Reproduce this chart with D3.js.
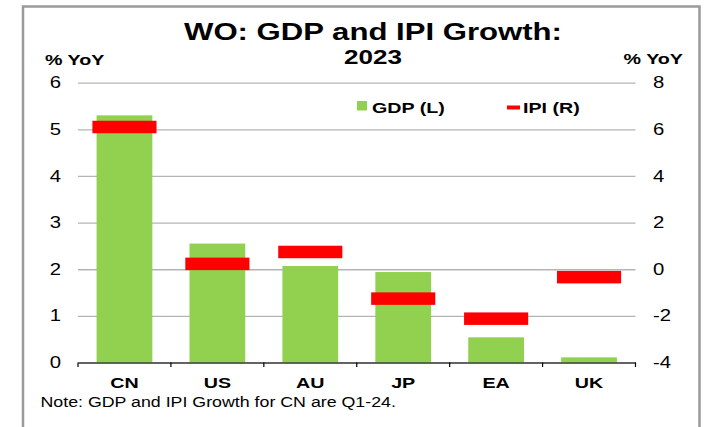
<!DOCTYPE html>
<html>
<head>
<meta charset="utf-8">
<script src="https://cdn.jsdelivr.net/npm/d3@7"></script>
<style>
  body { margin: 0; background: #fff; }
  svg { display: block; font-family: "Liberation Sans", Arial, sans-serif; }
</style>
</head>
<body>
<div id="chart"></div>
<script>
// Chart data
var categories = ["CN", "US", "AU", "JP", "EA", "UK"];
var gdpValues = [5.3, 2.55, 2.07, 1.94, 0.54, 0.11];
var ipiValues = [6.1, 0.23, 0.74, -1.26, -2.12, -0.34];
var leftTicks = [0, 1, 2, 3, 4, 5, 6];
var rightTicks = [-4, -2, 0, 2, 4, 6, 8];

// text in the picture is a bit wider than the font
var SX = 1.27;

var svgWidth = 706, svgHeight = 427;
var margin = { top: 82.7, right: 70.5, bottom: 64.5, left: 78 };
var width = svgWidth - margin.left - margin.right;
var height = svgHeight - margin.top - margin.bottom;

var svg = d3.select("#chart")
    .append("svg")
    .attr("width", svgWidth)
    .attr("height", svgHeight);

// frame
svg.append("rect")
    .attr("x", 23).attr("y", 6.5)
    .attr("width", 676.5).attr("height", 440)
    .attr("fill", "none")
    .attr("stroke", "#9a9a9a")
    .attr("stroke-width", 2.5);

// helper: place a stretched text
function addText(g, x, y, str, size, weight, anchor) {
    return g.append("text")
        .attr("transform", `translate(${x}, ${y}) scale(${SX}, 1)`)
        .attr("text-anchor", anchor || "start")
        .attr("font-size", size)
        .attr("font-weight", weight || "normal")
        .attr("fill", "#000")
        .text(str);
}

// Title
addText(svg, 373, 39.5, "WO: GDP and IPI Growth:", 24.5, "bold", "middle");
addText(svg, 373, 63.5, "2023", 20.5, "bold", "middle");

// axis titles
addText(svg, 45, 65, "% YoY", 15.5, "bold", "start");
addText(svg, 683, 64, "% YoY", 15.5, "bold", "end");

var chartGroup = svg.append("g")
    .attr("transform", `translate(${margin.left}, ${margin.top})`);

// Scales
var xScale = d3.scaleBand()
    .domain(categories)
    .range([0, width])
    .paddingInner(0.4)
    .paddingOuter(0.2);

var yLeft = d3.scaleLinear().domain([0, 6]).range([height, 0]);
var yRight = d3.scaleLinear().domain([-4, 8]).range([height, 0]);

// Left axis with gridlines
var leftAxis = chartGroup.append("g")
    .call(d3.axisLeft(yLeft).tickValues(leftTicks).tickFormat(d => String(d))
        .tickSizeInner(-width).tickSizeOuter(0).tickPadding(17));
leftAxis.select(".domain").remove();
leftAxis.selectAll("line").attr("stroke", "#b4b4b4").attr("stroke-width", 1.3);

// Right axis labels
var rightAxis = chartGroup.append("g")
    .attr("transform", `translate(${width}, 0)`)
    .call(d3.axisRight(yRight).tickValues(rightTicks).tickFormat(d => String(d))
        .tickSize(0).tickPadding(17.5));
rightAxis.select(".domain").remove();

[leftAxis, rightAxis].forEach(function(ax) {
    ax.selectAll("text")
        .attr("font-size", 16)
        .attr("font-family", "'Liberation Sans', Arial, sans-serif")
        .attr("fill", "#000")
        .attr("x", function() { return +d3.select(this).attr("x") / SX; })
        .attr("transform", `scale(${SX}, 1)`);
});

// Bars (GDP)
chartGroup.selectAll(".bar")
    .data(gdpValues)
    .enter()
    .append("rect")
    .attr("class", "bar")
    .attr("x", (d, i) => xScale(categories[i]))
    .attr("y", d => yLeft(d))
    .attr("width", xScale.bandwidth())
    .attr("height", d => yLeft(0) - yLeft(d))
    .attr("fill", "#92d050");

// Markers (IPI)
var markerW = xScale.step() * 0.69;
var markerH = 12.5;
chartGroup.selectAll(".marker")
    .data(ipiValues)
    .enter()
    .append("rect")
    .attr("class", "marker")
    .attr("x", (d, i) => xScale(categories[i]) + xScale.bandwidth() / 2 - markerW / 2)
    .attr("y", d => yRight(d) - markerH / 2)
    .attr("width", markerW)
    .attr("height", markerH)
    .attr("fill", "#ff0000");

// Bottom axis
var bottomAxis = chartGroup.append("g")
    .attr("transform", `translate(0, ${height})`)
    .call(d3.axisBottom(xScale).tickSize(0).tickPadding(14.5));
bottomAxis.select(".domain").attr("stroke", "#000").attr("stroke-width", 1.2);
bottomAxis.selectAll("text")
    .attr("font-size", 15.5)
    .attr("font-weight", "bold")
    .attr("font-family", "'Liberation Sans', Arial, sans-serif")
    .attr("fill", "#000")
    .attr("x", 0)
    .attr("transform", `scale(${SX}, 1)`);

// category boundary ticks
var bounds = d3.range(categories.length + 1).map(i => i * xScale.step());
chartGroup.selectAll(".bound")
    .data(bounds)
    .enter()
    .append("line")
    .attr("class", "bound")
    .attr("x1", d => d).attr("x2", d => d)
    .attr("y1", height).attr("y2", height + 4.5)
    .attr("stroke", "#000")
    .attr("stroke-width", 1.2);

// Legend
var legend = svg.append("g");
legend.append("rect")
    .attr("x", 357).attr("y", 101)
    .attr("width", 10).attr("height", 9.5)
    .attr("fill", "#92d050");
addText(legend, 372, 112.5, "GDP (L)", 15.5, "bold", "start");
legend.append("rect")
    .attr("x", 507).attr("y", 105.5)
    .attr("width", 13).attr("height", 4)
    .attr("fill", "#ff0000");
addText(legend, 523, 112.5, "IPI (R)", 15.5, "bold", "start");

// Note
addText(svg, 40.5, 406.5, "Note: GDP and IPI Growth for CN are Q1-24.", 14, "normal", "start");
</script>
</body>
</html>
